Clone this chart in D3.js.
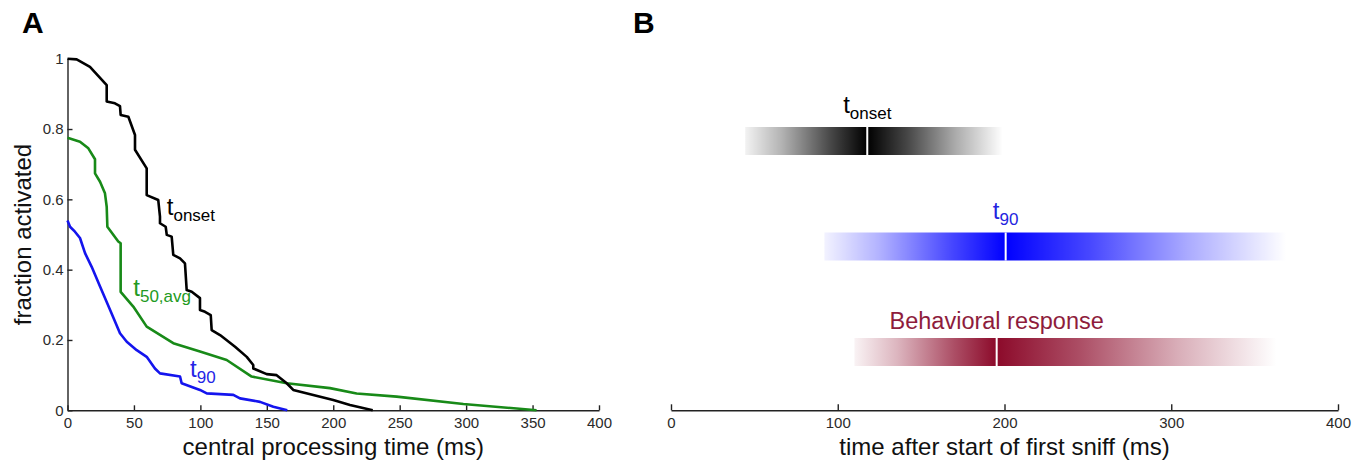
<!DOCTYPE html>
<html>
<head>
<meta charset="utf-8">
<script src="https://cdn.jsdelivr.net/npm/d3@7"></script>
<style>
  body { margin: 0; background: #fff; }
  text { font-family: "Liberation Sans", Arial, Helvetica, sans-serif; }
</style>
</head>
<body>
<script>
// panel A: fraction activated vs central processing time
const onsetX = [0, 6.9, 16.9, 29.5, 29.5, 35.7, 39.5, 40, 45.8, 50.8, 50.8, 59.6, 59.6, 68.3, 69.6, 69.6, 73.9, 74.7, 78.4, 79.6, 84.7, 88.4, 89.7, 93.5, 99.7, 99.7, 103.5, 107.8, 108.5, 114.8, 126.1, 134.9, 139.8, 139.8, 149.9, 157.4, 165, 169.9, 200, 212.6, 229.7]
const onsetY = [1, 0.998, 0.977, 0.925, 0.878, 0.873, 0.865, 0.84, 0.835, 0.783, 0.741, 0.688, 0.612, 0.598, 0.551, 0.532, 0.522, 0.499, 0.494, 0.442, 0.432, 0.418, 0.342, 0.337, 0.319, 0.285, 0.28, 0.271, 0.228, 0.214, 0.181, 0.152, 0.129, 0.119, 0.103, 0.1, 0.077, 0.058, 0.029, 0.015, 0]
const t50X = [0, 9.4, 15.7, 20.7, 20.7, 24.5, 28.2, 29.5, 30, 38.2, 40, 40, 49.5, 59.6, 79.6, 99.7, 119.8, 138.6, 165, 197.5, 217.6, 247.7, 297.9, 338, 353]
const t50Y = [0.775, 0.764, 0.745, 0.714, 0.674, 0.65, 0.617, 0.579, 0.522, 0.48, 0.475, 0.337, 0.295, 0.238, 0.191, 0.167, 0.143, 0.096, 0.077, 0.063, 0.048, 0.039, 0.018, 0.005, 0]
const t90X = [0, 1.9, 5.6, 9.4, 13.2, 18.2, 24.5, 32, 39.5, 44.6, 52.1, 59.6, 65.8, 69.6, 84.7, 85.9, 99.7, 104.8, 124.8, 129.8, 144.9, 154.9, 165.4]
const t90Y = [0.54, 0.522, 0.508, 0.49, 0.447, 0.408, 0.352, 0.286, 0.219, 0.195, 0.171, 0.152, 0.119, 0.105, 0.096, 0.077, 0.058, 0.048, 0.044, 0.034, 0.024, 0.01, 0]

const xTicksA = [0, 50, 100, 150, 200, 250, 300, 350, 400]
const yTicksA = [0, 0.2, 0.4, 0.6, 0.8, 1]
const yTickLabelsA = ['0', '0.2', '0.4', '0.6', '0.8', '1']

// panel B: timing distributions (ms)
const barNames = ['onset', '90', 'behavior']
const barStart = [44.5, 92, 110]
const barMedian = [117.7, 200.7, 195.3]
const barEnd = [199, 369, 363]
const xTicksB = [0, 100, 200, 300, 400]

const WIDTH = 1361
const HEIGHT = 462

const svg = d3.select(document.body).append('svg')
  .attr('width', WIDTH)
  .attr('height', HEIGHT)

const xA = d3.scaleLinear().domain([0, 400]).range([67.5, 599])
const yA = d3.scaleLinear().domain([0, 1]).range([410.3, 58.7])
const xB = d3.scaleLinear().domain([0, 400]).range([671, 1338])
const yB = d3.scalePoint().domain(barNames).range([141, 352])

const axisColor = '#222'

function styleAxis(g) {
  g.select('.domain').attr('stroke', axisColor).attr('stroke-width', 1.4)
  g.selectAll('.tick line').attr('stroke', axisColor).attr('stroke-width', 1.4)
  g.selectAll('.tick text').attr('fill', '#2a2a2a').attr('font-size', 15)
    .attr('font-family', '"Liberation Sans", Arial, sans-serif')
}

// ---- panel A ----
const gA = svg.append('g')

gA.append('g')
  .attr('transform', `translate(0,${yA(0)})`)
  .call(d3.axisBottom(xA).tickValues(xTicksA).tickSizeInner(-5).tickSizeOuter(0).tickPadding(7))
  .call(styleAxis)

gA.append('g')
  .attr('transform', `translate(${xA(0)},0)`)
  .call(d3.axisLeft(yA).tickValues(yTicksA).tickFormat((d, i) => yTickLabelsA[i])
    .tickSizeInner(-5).tickSizeOuter(0).tickPadding(4))
  .call(styleAxis)

const line = d3.line().x(d => xA(d[0])).y(d => yA(d[1]))

const curves = [
  { x: t50X, y: t50Y, color: '#188a18' },
  { x: onsetX, y: onsetY, color: '#000000' },
  { x: t90X, y: t90Y, color: '#1414ee' }
]

gA.selectAll('path.curve')
  .data(curves)
  .enter()
  .append('path')
  .attr('class', 'curve')
  .attr('d', c => line(c.x.map((v, i) => [v, c.y[i]])))
  .attr('fill', 'none')
  .attr('stroke', c => c.color)
  .attr('stroke-width', 2.6)
  .attr('stroke-linejoin', 'round')

// curve labels
const curveLabels = [
  { t: 't', sub: 'onset', x: 74.7, y: 0.555, color: '#000' },
  { t: 't', sub: '50,avg', x: 49.5, y: 0.326, color: '#229a22' },
  { t: 't', sub: '90', x: 92.2, y: 0.096, color: '#2424e6' }
]

function subLabel(g, d, px, py, anchor) {
  const txt = g.append('text')
    .attr('x', px)
    .attr('y', py)
    .attr('fill', d.color)
    .attr('text-anchor', anchor)
  txt.append('tspan').attr('font-size', 24).text(d.t)
  txt.append('tspan').attr('font-size', 17).attr('dy', 6).text(d.sub)
  return txt
}

curveLabels.forEach(d => subLabel(gA, d, xA(d.x), yA(d.y), 'start'))

gA.append('text')
  .attr('x', (xA(0) + xA(400)) / 2)
  .attr('y', 455)
  .attr('text-anchor', 'middle')
  .attr('font-size', 24)
  .attr('fill', '#111')
  .text('central processing time (ms)')

gA.append('text')
  .attr('transform', `translate(31,${(yA(0) + yA(1)) / 2}) rotate(-90)`)
  .attr('text-anchor', 'middle')
  .attr('font-size', 24)
  .attr('fill', '#111')
  .text('fraction activated')

svg.append('text')
  .attr('x', 22)
  .attr('y', 33)
  .attr('font-size', 30)
  .attr('font-weight', 'bold')
  .text('A')

svg.append('text')
  .attr('x', 633)
  .attr('y', 33)
  .attr('font-size', 30)
  .attr('font-weight', 'bold')
  .text('B')

// ---- panel B ----
const gB = svg.append('g')

gB.append('g')
  .attr('transform', `translate(0,${yA(0)})`)
  .call(d3.axisBottom(xB).tickValues(xTicksB).tickSizeInner(-6).tickSizeOuter(0).tickPadding(7))
  .call(styleAxis)

gB.append('text')
  .attr('x', (xB(0) + xB(400)) / 2)
  .attr('y', 455)
  .attr('text-anchor', 'middle')
  .attr('font-size', 24)
  .attr('fill', '#111')
  .text('time after start of first sniff (ms)')

const barColors = ['#000000', '#0000ff', '#8c0a2a']
const barLabels = [
  { t: 't', sub: 'onset', color: '#000' },
  { t: 't', sub: '90', color: '#2424e0' },
  { text: 'Behavioral response', color: '#8e1c3c' }
]
const BAR_H = 28

const defs = svg.append('defs')
barNames.forEach((name, i) => {
  const m = (barMedian[i] - barStart[i]) / (barEnd[i] - barStart[i])
  const stops = [
    [0, 0.05], [m * 0.3, 0.3], [m * 0.7, 0.72], [m, 1],
    [m + (1 - m) * 0.3, 0.72], [m + (1 - m) * 0.65, 0.33], [1, 0]
  ]
  const grad = defs.append('linearGradient')
    .attr('id', 'grad-' + name)
    .attr('x1', 0).attr('x2', 1).attr('y1', 0).attr('y2', 0)
  stops.forEach(s => {
    grad.append('stop')
      .attr('offset', s[0])
      .attr('stop-color', barColors[i])
      .attr('stop-opacity', s[1])
  })
})

gB.selectAll('rect.bar')
  .data(barNames)
  .enter()
  .append('rect')
  .attr('class', 'bar')
  .attr('x', (d, i) => xB(barStart[i]))
  .attr('width', (d, i) => xB(barEnd[i]) - xB(barStart[i]))
  .attr('y', d => yB(d) - BAR_H / 2)
  .attr('height', BAR_H)
  .attr('fill', d => `url(#grad-${d})`)

gB.selectAll('rect.median')
  .data(barNames)
  .enter()
  .append('rect')
  .attr('class', 'median')
  .attr('x', (d, i) => xB(barMedian[i]) - 1)
  .attr('width', 2)
  .attr('y', d => yB(d) - BAR_H / 2)
  .attr('height', BAR_H)
  .attr('fill', '#fff')

barNames.forEach((name, i) => {
  const lab = barLabels[i]
  const top = yB(name) - BAR_H / 2
  if (lab.text) {
    gB.append('text')
      .attr('x', xB(barMedian[i]))
      .attr('y', top - 9.5)
      .attr('text-anchor', 'middle')
      .attr('font-size', 23.5)
      .attr('fill', lab.color)
      .text(lab.text)
  } else {
    subLabel(gB, lab, xB(barMedian[i]), top - 14, 'middle')
  }
})
</script>
</body>
</html>
